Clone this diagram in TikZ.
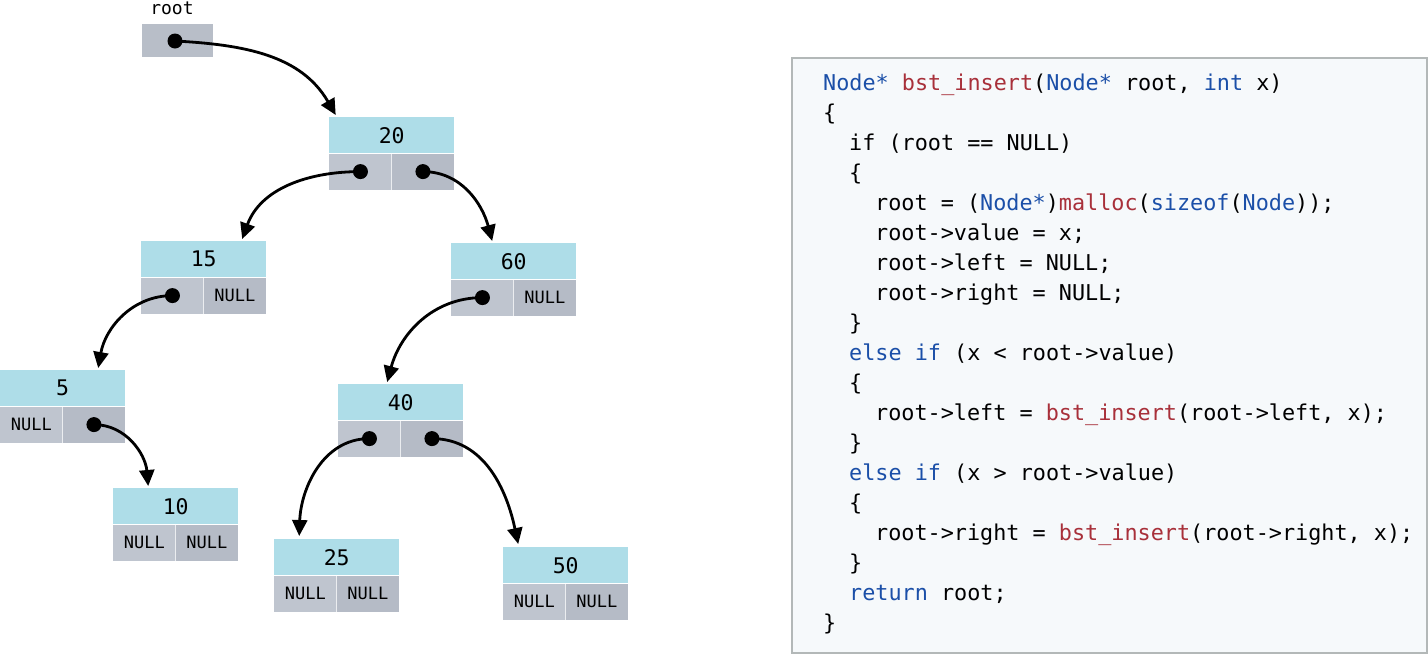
\documentclass[tikz,border=0pt]{standalone}
\usepackage{fontspec}
\usetikzlibrary{arrows.meta}
\newfontfamily\codefont{DejaVu Sans Mono}
\definecolor{topc}{HTML}{AEDDE8}
\definecolor{cellL}{HTML}{BFC5CF}
\definecolor{cellR}{HTML}{B5BBC6}
\definecolor{rootc}{HTML}{B8BEC8}
\definecolor{kwblue}{HTML}{1B4FA8}
\definecolor{fnred}{HTML}{A8303A}
\definecolor{boxborder}{HTML}{B3B8B8}
\definecolor{boxfill}{HTML}{F6F9FB}
\newcommand\kwc[1]{\textcolor{kwblue}{#1}}
\newcommand\fnc[1]{\textcolor{fnred}{#1}}
\newcommand\bstnode[6]{%
  \node[valbox, anchor=north west] (#1) at (#2,#3) {#4};
  \node[lcell, anchor=north west] (#1l) at (#1.south west) {#5};
  \node[rcell, anchor=north east] (#1r) at (#1.south east) {#6};
  \draw[sepline] (#1r.north west) -- (#1r.south west);
}
\begin{document}
\begin{tikzpicture}[x=1pt,y=-1pt,
  valbox/.style={fill=topc, minimum width=125pt, minimum height=36pt, inner sep=0pt,
    font=\codefont\fontsize{21.5}{24}\selectfont},
  lcell/.style={fill=cellL, minimum width=62.5pt, minimum height=36pt, inner sep=0pt,
    font=\codefont\fontsize{17}{20}\selectfont},
  rcell/.style={fill=cellR, minimum width=62.5pt, minimum height=36pt, inner sep=0pt,
    font=\codefont\fontsize{17}{20}\selectfont},
  sepline/.style={white, opacity=0.7, line width=1pt},
  dot/.style={circle, fill=black, minimum size=15pt, inner sep=0pt},
  ptr/.style={line width=2.8pt, -{Triangle[length=16pt,width=15pt]}},
  codeline/.style={anchor=base west, inner sep=0pt, font=\codefont\fontsize{21.8}{26}\selectfont},
  codebox/.style={draw=boxborder, fill=boxfill, line width=2pt, inner sep=0pt}
]
\useasboundingbox (0,0) rectangle (1428,654);

% root pointer
\node[fill=rootc, minimum width=71pt, minimum height=33pt, inner sep=0pt, anchor=north west] (root) at (142,24) {};
\node[font=\codefont\fontsize{18}{20}\selectfont, inner sep=0pt] (rootlbl) at (172,8) {root};
\node[dot] (droot) at (175,41) {};

% tree nodes
\bstnode{n20}{329}{117}{20}{}{}
\bstnode{n15}{141}{241}{15}{}{NULL}
\bstnode{n60}{451}{243}{60}{}{NULL}
\bstnode{n5}{0}{370}{5}{NULL}{}
\bstnode{n10}{113}{488}{10}{NULL}{NULL}
\bstnode{n40}{338}{384}{40}{}{}
\bstnode{n25}{274}{539}{25}{NULL}{NULL}
\bstnode{n50}{503}{547}{50}{NULL}{NULL}

\node[dot] (d20l) at (n20l) {};
\node[dot] (d20r) at (n20r) {};
\node[dot] (d15l) at (n15l) {};
\node[dot] (d60l) at (n60l) {};
\node[dot] (d5r) at (n5r) {};
\node[dot] (d40l) at (n40l) {};
\node[dot] (d40r) at (n40r) {};

% pointers
\draw[ptr] (droot.center) to[out=-3,in=120] ([xshift=-56pt,yshift=2pt]n20.north);
\draw[ptr] (d20l.center) to[out=180,in=70] ([xshift=38.5pt,yshift=2pt]n15.north);
\draw[ptr] (d20r.center) to[out=0,in=105] ([xshift=-21.5pt,yshift=2pt]n60.north);
\draw[ptr] (d15l.center) to[out=180,in=80] ([xshift=35.5pt,yshift=2pt]n5.north);
\draw[ptr] (d60l.center) to[out=180,in=75] ([xshift=-13.5pt,yshift=2pt]n40.north);
\draw[ptr] (d5r.center) to[out=0,in=95] ([xshift=-27.5pt,yshift=2pt]n10.north);
\draw[ptr] (d40l.center) to[out=180,in=88] ([xshift=-37.5pt,yshift=3pt]n25.north);
\draw[ptr] (d40r.center) to[out=0,in=102] ([xshift=-47.5pt,yshift=3pt]n50.north);

% code box
\node[codebox, anchor=north west, minimum width=635pt, minimum height=595pt] (code) at (791,57) {};
\node[codeline] (c1) at (823,90) {\kwc{Node*} \fnc{bst\_insert}(\kwc{Node*} root, \kwc{int} x)};
\node[codeline] (c2) at (823,120) {\{};
\node[codeline] (c3) at (849,150) {if (root == NULL)};
\node[codeline] (c4) at (849,180) {\{};
\node[codeline] (c5) at (875,210) {root = (\kwc{Node*})\fnc{malloc}(\kwc{sizeof}(\kwc{Node}));};
\node[codeline] (c6) at (875,240) {root->value = x;};
\node[codeline] (c7) at (875,270) {root->left = NULL;};
\node[codeline] (c8) at (875,300) {root->right = NULL;};
\node[codeline] (c9) at (849,330) {\}};
\node[codeline] (c10) at (849,360) {\kwc{else if} (x < root->value)};
\node[codeline] (c11) at (849,390) {\{};
\node[codeline] (c12) at (875,420) {root->left = \fnc{bst\_insert}(root->left, x);};
\node[codeline] (c13) at (849,450) {\}};
\node[codeline] (c14) at (849,480) {\kwc{else if} (x > root->value)};
\node[codeline] (c15) at (849,510) {\{};
\node[codeline] (c16) at (875,540) {root->right = \fnc{bst\_insert}(root->right, x);};
\node[codeline] (c17) at (849,570) {\}};
\node[codeline] (c18) at (849,600) {\kwc{return} root;};
\node[codeline] (c19) at (823,630) {\}};
\end{tikzpicture}
\end{document}
